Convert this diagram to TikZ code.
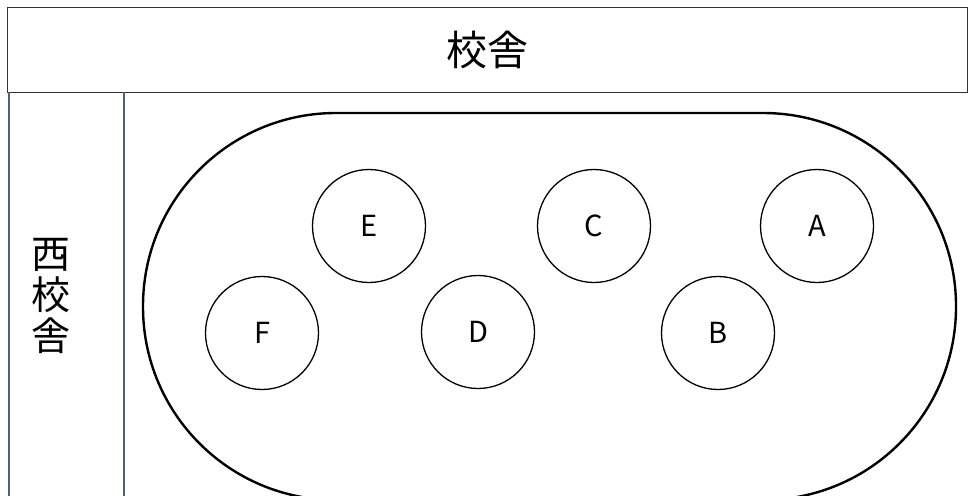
\documentclass[tikz,border=0pt]{standalone}
\usepackage{fontspec}
\setmainfont{Noto Sans CJK JP}
\definecolor{colgray}{RGB}{80,96,120}
\begin{document}
\begin{tikzpicture}[x=1pt,y=-1pt,
  boxline/.style={draw=black!80,line width=1.4pt},
  colline/.style={draw=colgray,line width=1.3pt},
  track/.style={draw=black,line width=2.4pt},
  seat/.style={circle,draw=black,line width=1.3pt,minimum size=113pt,inner sep=0pt,font=\fontsize{29}{32}\selectfont},
]
\useasboundingbox[fill=white] (0,0) rectangle (973,495);
% top building
\node[boxline,rectangle,minimum width=960pt,minimum height=85pt,inner sep=0pt,anchor=north west,font=\fontsize{41}{44}\selectfont] (kosha) at (7,7) {校舎};
% west building column
\coordinate (wtl) at (9,92);
\coordinate (wtr) at (124,92);
\coordinate (wbl) at (9,500);
\coordinate (wbr) at (124,500);
\draw[colline] (wtl) -- (wbl);
\draw[colline] (wtr) -- (wbr);
\node[align=center,font=\fontsize{39}{41}\selectfont] (nishi) at (51,296) {西\\校\\舎};
% track (stadium)
\coordinate (stl) at (143,113);
\coordinate (sbr) at (956,500);
\draw[track,rounded corners=193pt] (stl) rectangle (sbr);
% seats
\node[seat] (E) at (369,226) {E};
\node[seat] (C) at (594,226) {C};
\node[seat] (A) at (817,226) {A};
\node[seat] (F) at (262,333) {F};
\node[seat] (D) at (478,332) {D};
\node[seat] (B) at (718,333) {B};
\end{tikzpicture}
\end{document}
